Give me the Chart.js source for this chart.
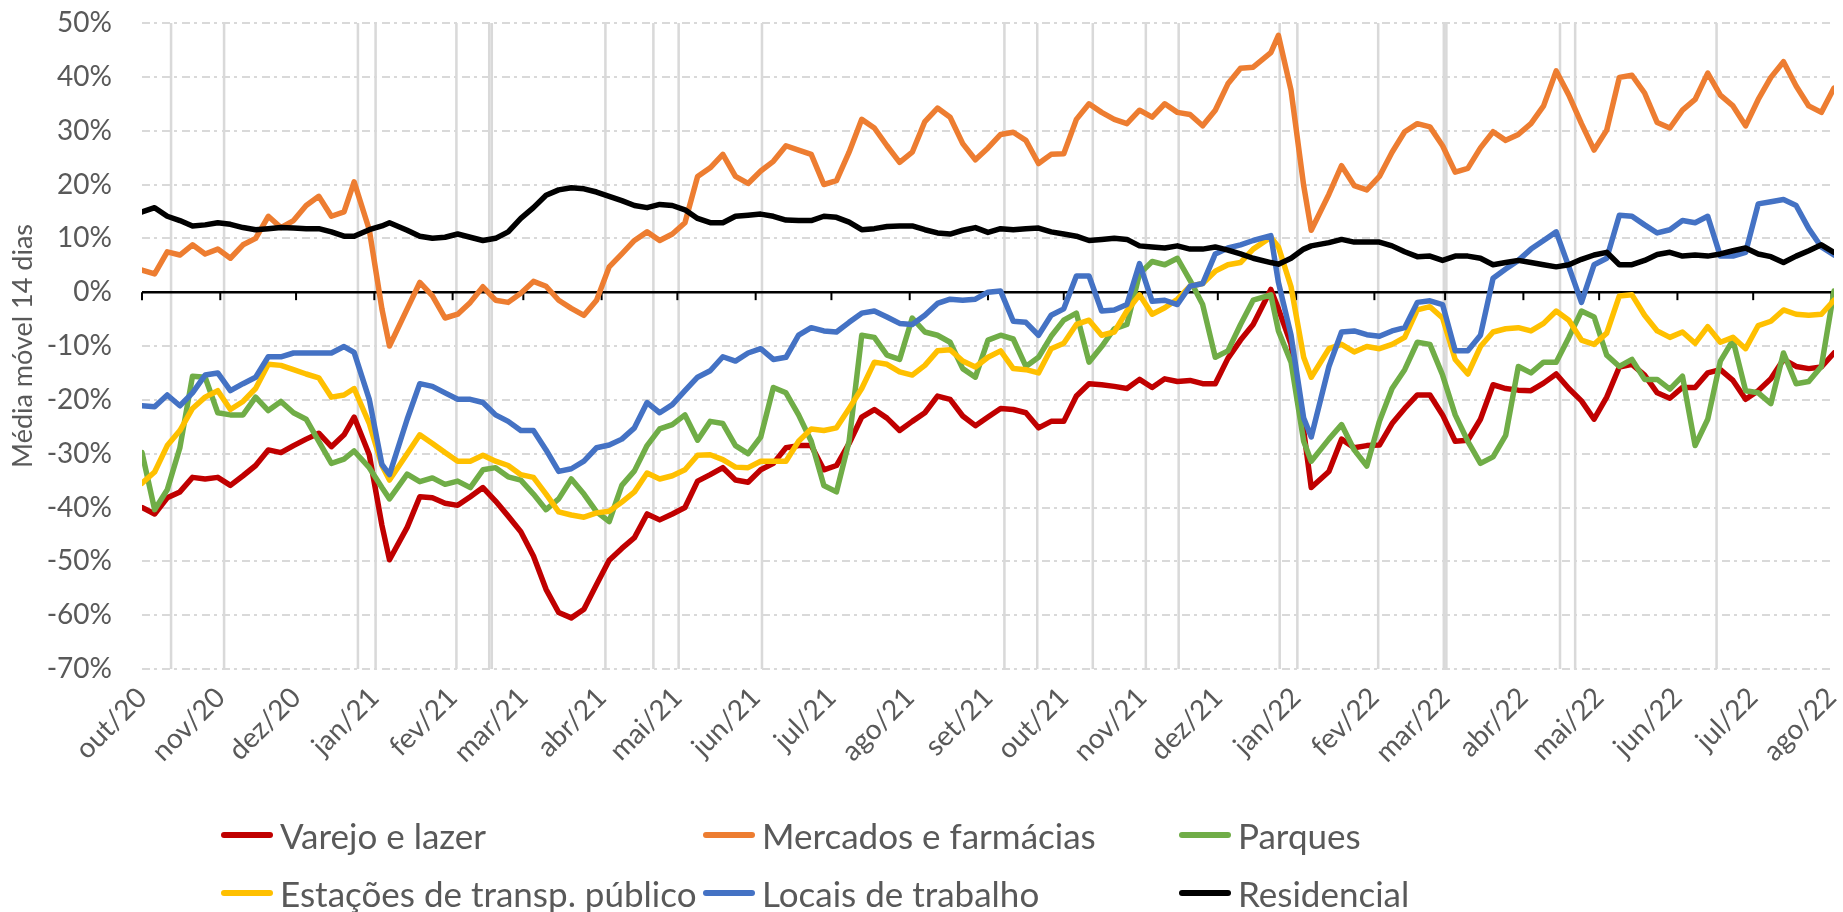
<!DOCTYPE html>
<html lang="pt-BR">
<head>
<meta charset="utf-8">
<title>Mobilidade - média móvel 14 dias</title>
<script src="https://cdn.jsdelivr.net/npm/chart.js@4.4.0/dist/chart.umd.min.js"></script>
<style>
  html, body { margin: 0; padding: 0; background: #fff; }
  #wrap { position: relative; width: 1843px; height: 912px; }
  #legend {
    position: absolute; left: 221px; top: 806px;
    display: grid; grid-template-columns: 482px 476px 420px; grid-auto-rows: 58px;
    font-family: Lato, "Liberation Sans", sans-serif; font-size: 35px; color: #595959;
  }
  .item { display: flex; align-items: center; white-space: nowrap; }
  .swatch { width: 52px; height: 6px; border-radius: 3px; margin-right: 7px; flex: none; }
</style>
</head>
<body>
<div id="wrap">
  <canvas id="mobilityChart"></canvas>
  <div id="legend"></div>
</div>
<script>
// days counted from 01/10/2020
const days = [0,5,10,15,20,25,30,35,40,45,50,55,60,65,70,75,80,84,90,95,98,
  105,110,115,120,125,130,135,140,145,150,155,160,165,170,175,180,185,190,195,200,
  205,210,215,220,225,230,235,240,245,250,255,260,265,270,275,280,285,290,295,300,
  305,310,315,320,325,330,335,340,345,350,355,360,365,370,375,380,385,390,395,400,
  405,410,415,420,425,430,435,440,447,450,455,460,463,470,475,480,485,490,495,500,
  505,510,515,520,525,530,535,540,545,550,555,560,565,570,575,580,585,590,595,600,
  605,610,615,620,625,630,635,640,645,650,655,660,665,670];

const monthStarts = [0,31,61,92,123,151,182,212,243,273,304,335,365,396,426,457,488,516,547,577,608,638,669];
const monthLabels = ['out/20','nov/20','dez/20','jan/21','fev/21','mar/21','abr/21','mai/21','jun/21','jul/21','ago/21','set/21',
  'out/21','nov/21','dez/21','jan/22','fev/22','mar/22','abr/22','mai/22','jun/22','jul/22','ago/22'];

// feriados (gray vertical bands)
const holidays = [11,32,85,92,124,137,138,183,202,212,245,341,354,376,397,410,450,457,489,515,516,561,567,623];

const yTicks = [-70,-60,-50,-40,-30,-20,-10,0,10,20,30,40,50];

const varejo = [-40.0,-41.2,-38.2,-37.1,-34.4,-34.7,-34.4,-35.9,-34.1,-32.2,-29.3,-29.8,-28.5,-27.3,-26.2,-28.7,-26.5,-23.2,-30.2,-43.3,-49.7,
  -43.7,-38.0,-38.2,-39.2,-39.6,-38.0,-36.3,-38.8,-41.6,-44.5,-49.0,-55.2,-59.5,-60.5,-58.9,-54.3,-49.8,-47.6,-45.6,-41.2,
  -42.3,-41.2,-40.0,-35.1,-33.9,-32.6,-34.9,-35.3,-33.0,-31.8,-28.9,-28.5,-28.5,-33.0,-32.2,-28.1,-23.2,-21.8,-23.4,-25.7,
  -24.0,-22.4,-19.3,-19.9,-23.0,-24.8,-23.2,-21.6,-21.8,-22.4,-25.2,-24.0,-24.0,-19.3,-17.0,-17.2,-17.5,-17.9,-16.2,-17.7,
  -16.1,-16.6,-16.4,-17.0,-17.0,-12.3,-8.9,-6.0,0.5,-3.1,-9.7,-25.7,-36.3,-33.3,-27.3,-28.9,-28.5,-28.4,-24.4,-21.6,
  -19.1,-19.1,-22.8,-27.7,-27.5,-23.6,-17.2,-17.9,-18.2,-18.3,-16.9,-15.2,-17.9,-20.2,-23.6,-19.5,-13.9,-13.4,-15.4,-18.7,
  -19.7,-17.7,-17.7,-15.0,-14.4,-16.4,-19.9,-18.3,-16.1,-12.5,-13.8,-14.2,-13.9,-11.3];

const mercados = [4.1,3.4,7.5,6.9,8.8,7.1,8.0,6.3,8.8,10.0,14.1,12.0,13.3,16.1,17.8,14.1,14.9,20.5,11.6,-3.1,-10.0,
  -3.1,1.8,-0.7,-4.8,-4.1,-1.9,1.0,-1.5,-1.9,-0.2,2.0,1.1,-1.5,-3.0,-4.3,-1.5,4.7,7.1,9.6,11.2,
  9.6,10.8,12.9,21.5,23.1,25.6,21.5,20.2,22.5,24.3,27.2,26.4,25.6,20.0,20.7,26.0,32.1,30.5,27.2,24.1,
  26.0,31.7,34.2,32.5,27.6,24.6,26.8,29.3,29.7,28.2,23.9,25.6,25.7,32.1,35.0,33.4,32.1,31.3,33.8,32.5,
  35.0,33.4,33.0,30.9,33.8,38.7,41.6,41.8,44.5,47.7,37.5,19.8,11.5,18.2,23.5,19.8,19.0,21.5,26.0,29.8,
  31.3,30.7,27.2,22.3,23.0,26.8,29.8,28.2,29.3,31.3,34.6,41.1,36.6,31.3,26.4,30.1,39.9,40.3,37.0,31.5,
  30.5,33.8,35.8,40.7,36.6,34.6,30.9,35.8,39.9,42.8,38.3,34.6,33.4,37.9];

const parques = [-29.8,-40.4,-36.7,-28.9,-15.6,-15.8,-22.4,-22.8,-22.8,-19.5,-22.0,-20.3,-22.4,-23.6,-27.7,-31.8,-31.0,-29.5,-32.6,-36.3,-38.4,
  -33.8,-35.2,-34.5,-35.7,-35.1,-36.3,-33.0,-32.6,-34.3,-34.9,-37.5,-40.4,-38.4,-34.7,-37.5,-40.8,-42.6,-35.9,-33.2,-28.5,
  -25.4,-24.6,-22.8,-27.5,-24.0,-24.4,-28.5,-30.0,-26.9,-17.7,-18.7,-22.8,-27.7,-35.9,-37.1,-27.7,-8.0,-8.4,-11.7,-12.5,
  -4.8,-7.4,-8.0,-9.3,-14.2,-15.8,-8.9,-8.0,-8.7,-13.8,-12.1,-8.2,-5.2,-3.9,-13.0,-10.1,-6.8,-6.0,3.4,5.7,
  5.1,6.3,2.2,-2.3,-12.1,-10.9,-6.0,-1.5,-0.5,-7.2,-13.0,-27.7,-31.4,-27.3,-24.6,-29.3,-32.3,-24.0,-17.9,-14.4,
  -9.3,-9.7,-15.4,-22.8,-27.7,-31.8,-30.6,-26.6,-13.8,-15.0,-13.0,-13.0,-8.4,-3.5,-4.6,-11.7,-13.8,-12.5,-16.2,-16.2,
  -18.0,-15.6,-28.5,-23.6,-12.8,-8.9,-18.3,-18.7,-20.7,-11.3,-17.0,-16.6,-13.8,0.2];

const estacoes = [-35.5,-33.4,-28.5,-25.7,-21.6,-19.5,-18.3,-21.8,-20.3,-17.9,-13.4,-13.6,-14.4,-15.2,-15.9,-19.5,-19.1,-17.9,-24.4,-32.2,-34.9,
  -30.0,-26.5,-28.1,-29.8,-31.4,-31.4,-30.3,-31.4,-32.2,-33.9,-34.4,-37.5,-40.8,-41.4,-41.8,-41.0,-40.7,-39.0,-37.1,-33.6,
  -34.7,-34.1,-33.0,-30.3,-30.2,-31.1,-32.5,-32.6,-31.4,-31.4,-31.4,-27.7,-25.4,-25.7,-25.2,-21.6,-17.9,-13.0,-13.4,-14.8,
  -15.4,-13.6,-10.9,-10.7,-12.8,-13.9,-12.1,-10.9,-14.2,-14.4,-15.0,-10.5,-9.5,-6.0,-5.2,-8.0,-7.4,-3.5,-0.5,-4.1,
  -2.9,-1.3,1.1,1.6,3.9,5.1,5.5,8.0,10.2,8.4,1.0,-12.1,-15.8,-10.5,-9.7,-11.1,-10.1,-10.5,-9.7,-8.4,
  -3.3,-2.7,-4.8,-12.5,-15.2,-10.1,-7.4,-6.8,-6.6,-7.2,-5.8,-3.5,-5.2,-8.9,-9.7,-7.6,-0.7,-0.5,-4.3,-7.2,
  -8.4,-7.4,-9.5,-6.4,-9.3,-8.4,-10.5,-6.2,-5.4,-3.3,-4.1,-4.3,-4.1,-1.5];

const locais = [-21.1,-21.3,-19.1,-21.1,-18.7,-15.4,-15.0,-18.3,-17.0,-15.8,-12.0,-12.0,-11.3,-11.3,-11.3,-11.3,-10.1,-11.2,-19.9,-32.0,-33.9,
  -23.6,-17.0,-17.5,-18.7,-19.9,-19.9,-20.5,-22.8,-24.0,-25.7,-25.7,-29.3,-33.3,-32.8,-31.4,-28.9,-28.4,-27.3,-25.2,-20.5,
  -22.4,-20.9,-18.3,-15.8,-14.6,-12.0,-12.8,-11.3,-10.5,-12.5,-12.1,-8.0,-6.6,-7.2,-7.4,-5.6,-3.9,-3.5,-4.6,-5.8,
  -6.0,-4.3,-2.1,-1.3,-1.5,-1.3,0.0,0.2,-5.4,-5.6,-8.0,-4.3,-3.1,3.0,3.0,-3.5,-3.3,-2.3,5.3,-1.7,
  -1.5,-2.3,1.1,1.6,7.1,8.2,8.8,9.6,10.5,1.8,-8.0,-23.4,-26.9,-13.8,-7.4,-7.2,-7.9,-8.2,-7.2,-6.6,
  -1.9,-1.6,-2.3,-10.9,-10.9,-8.0,2.6,4.3,5.9,8.0,9.6,11.2,4.7,-1.9,5.1,6.3,14.3,14.1,12.5,11.0,
  11.6,13.3,12.9,14.1,6.7,6.7,7.4,16.4,16.8,17.2,16.1,11.8,8.4,6.9];

const residencial = [14.9,15.7,14.1,13.3,12.3,12.5,12.9,12.6,12.0,11.6,11.8,12.0,11.9,11.8,11.8,11.2,10.4,10.4,11.6,12.3,12.9,
  11.5,10.4,10.0,10.2,10.8,10.2,9.6,10.0,11.2,13.7,15.7,18.0,19.0,19.4,19.2,18.6,17.8,17.0,16.1,15.7,
  16.3,16.1,15.3,13.7,12.9,12.9,14.1,14.3,14.5,14.1,13.4,13.3,13.3,14.1,13.9,13.0,11.6,11.8,12.2,12.3,
  12.3,11.6,11.0,10.8,11.5,12.0,11.1,11.8,11.6,11.8,11.9,11.2,10.8,10.4,9.6,9.8,10.0,9.8,8.6,8.4,
  8.2,8.6,8.0,8.0,8.4,7.8,7.1,6.3,5.5,5.2,6.3,8.0,8.6,9.2,9.8,9.3,9.3,9.3,8.6,7.5,
  6.6,6.7,5.9,6.7,6.7,6.3,5.1,5.5,5.9,5.5,5.1,4.7,5.1,6.1,6.9,7.4,5.1,5.1,5.9,7.0,
  7.4,6.7,6.9,6.7,7.1,7.7,8.2,7.1,6.6,5.5,6.7,7.7,8.8,7.4];

const FONT = 'Lato, "Liberation Sans", sans-serif';
const GREY = '#595959';

function toPoints(values) {
    return days.map((d, i) => ({x: d, y: values[i]}));
}

// holiday bands + black zero axis with month ticks, drawn under the lines
const backdropPlugin = {
    id: 'backdrop',
    beforeDatasetsDraw(chart) {
        const {ctx, chartArea} = chart;
        const xs = chart.scales.x;
        const ys = chart.scales.y;
        ctx.save();
        ctx.fillStyle = '#d9d9d9';
        holidays.forEach(d => {
            const x0 = xs.getPixelForValue(d);
            const x1 = xs.getPixelForValue(d + 1);
            ctx.fillRect(x0, chartArea.top, x1 - x0, chartArea.bottom - chartArea.top);
        });

        const y0 = ys.getPixelForValue(0);
        ctx.strokeStyle = '#000';
        ctx.lineWidth = 2.5;
        ctx.beginPath();
        ctx.moveTo(chartArea.left, y0);
        ctx.lineTo(chartArea.right, y0);
        ctx.stroke();
        ctx.lineWidth = 2;
        monthStarts.forEach(m => {
            const px = xs.getPixelForValue(m);
            ctx.beginPath();
            ctx.moveTo(px, y0);
            ctx.lineTo(px, y0 + 8);
            ctx.stroke();
        });
        ctx.restore();
    }
};

const seriesList = [
    {label: 'Varejo e lazer', values: varejo, color: '#C00000'},
    {label: 'Mercados e farmácias', values: mercados, color: '#ED7D31'},
    {label: 'Parques', values: parques, color: '#70AD47'},
    {label: 'Estações de transp. público', values: estacoes, color: '#FFC000'},
    {label: 'Locais de trabalho', values: locais, color: '#4472C4'},
    {label: 'Residencial', values: residencial, color: '#000000'}
];

const chart = new Chart(document.getElementById('mobilityChart').getContext('2d'), {
    type: 'line',
    data: {
        datasets: seriesList.map((s, i) => ({
            label: s.label,
            data: toPoints(s.values),
            borderColor: s.color,
            backgroundColor: s.color,
            borderWidth: 5.5,
            pointRadius: 0,
            tension: 0,
            borderJoinStyle: 'round',
            borderCapStyle: 'round',
            order: seriesList.length - 1 - i
        }))
    },
    options: {
        responsive: true,
        maintainAspectRatio: false,
        devicePixelRatio: 1,
        animation: false,
        layout: {padding: {left: 0, right: 9, top: 23, bottom: 143}},
        plugins: {
            legend: {display: false},
            tooltip: {enabled: false}
        },
        scales: {
            x: {
                type: 'linear',
                min: 0,
                max: 670,
                grid: {display: false, drawTicks: false},
                border: {display: false},
                afterBuildTicks: scale => {
                    scale.ticks = monthStarts.map(v => ({value: v}));
                },
                afterFit: scale => {
                    scale.height = 100;
                    scale.paddingLeft = 0;
                    scale.paddingRight = 0;
                },
                ticks: {
                    autoSkip: false,
                    minRotation: 45,
                    maxRotation: 45,
                    padding: 12,
                    color: GREY,
                    font: {family: FONT, size: 28},
                    callback: (value, index) => monthLabels[index]
                }
            },
            y: {
                min: -70,
                max: 50,
                afterBuildTicks: scale => {
                    scale.ticks = yTicks.map(v => ({value: v}));
                },
                afterFit: scale => {
                    scale.width = 142;
                    scale.paddingTop = 0;
                    scale.paddingBottom = 0;
                },
                ticks: {
                    padding: 30,
                    color: GREY,
                    font: {family: FONT, size: 28},
                    callback: v => v + '%'
                },
                grid: {
                    color: ctx => (ctx.tick && ctx.tick.value === 0) ? 'rgba(0,0,0,0)' : '#d9d9d9',
                    lineWidth: 2,
                    drawTicks: false
                },
                border: {display: false, dash: [8, 4, 3, 5]},
                title: {
                    display: true,
                    text: 'Média móvel 14 dias',
                    color: GREY,
                    font: {family: FONT, size: 27},
                    padding: {top: 7, bottom: 0}
                }
            }
        }
    },
    plugins: [backdropPlugin]
});

// legend as a 3-column grid, like the original
const legendEl = document.getElementById('legend');
chart.data.datasets.forEach(ds => {
    const item = document.createElement('div');
    item.className = 'item';
    const sw = document.createElement('span');
    sw.className = 'swatch';
    sw.style.background = ds.borderColor;
    const txt = document.createElement('span');
    txt.textContent = ds.label;
    item.appendChild(sw);
    item.appendChild(txt);
    legendEl.appendChild(item);
});
</script>
</body>
</html>
